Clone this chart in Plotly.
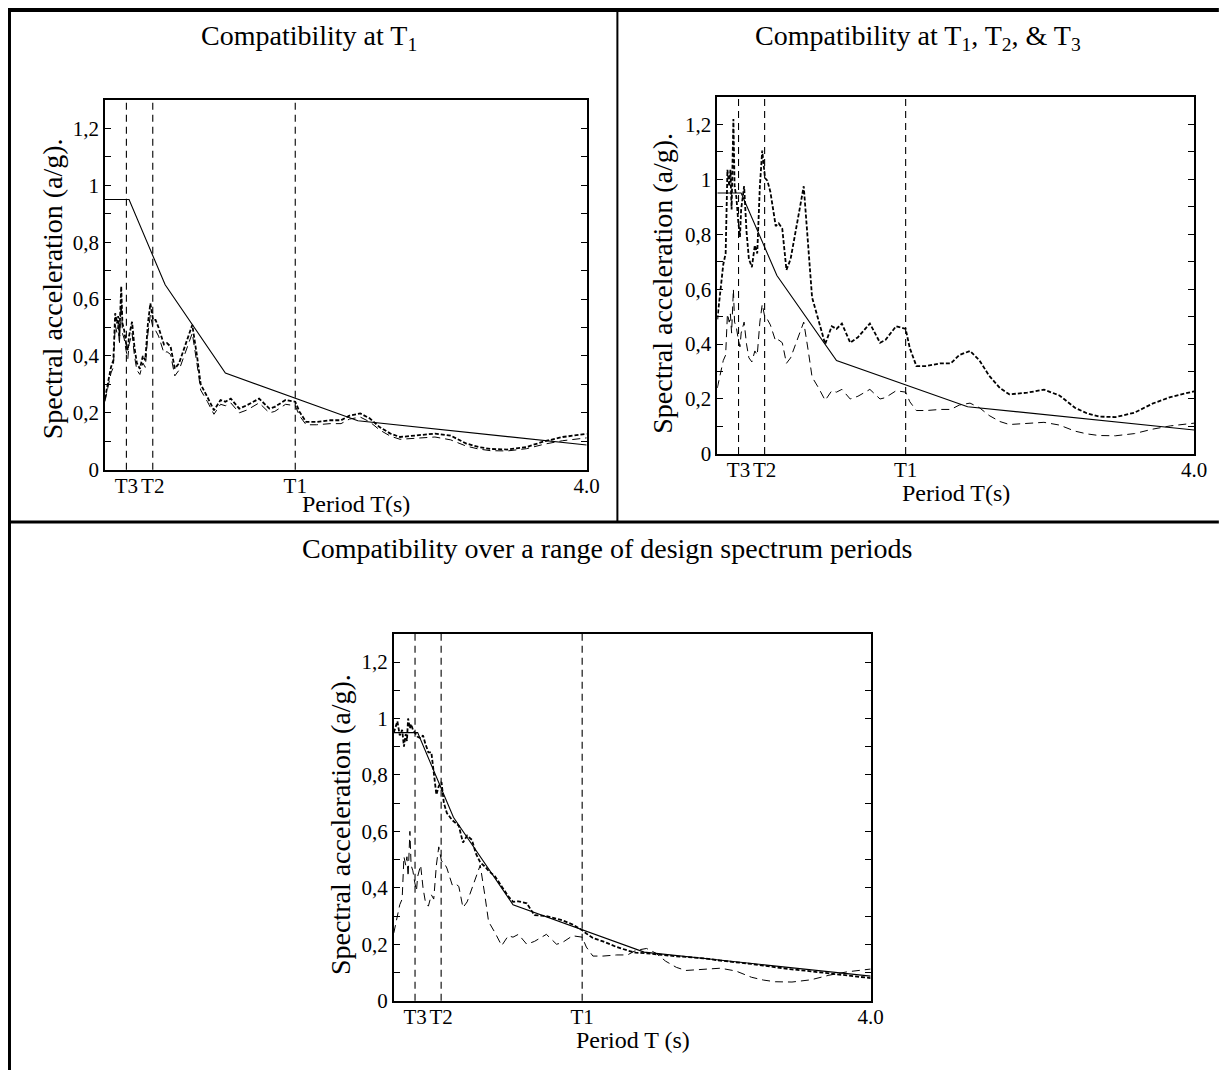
import plotly.graph_objects as go

# ---------------- data ----------------
T3, T2, T1, TMAX = 0.178, 0.397, 1.58, 4.0
X_TICK_VALS = [T3, T2, T1, TMAX]
X_TICK_TEXT = ["T3", "T2", "T1", "4.0"]
Y_TICK_VALS = [0, 0.1, 0.2, 0.3, 0.4, 0.5, 0.6, 0.7, 0.8, 0.9, 1.0, 1.1, 1.2]
Y_TICK_TEXT = ["0", "", "0,2", "", "0,4", "", "0,6", "", "0,8", "", "1", "", "1,2"]

# design spectrum
design_T = [0.0, 0.2, 0.5, 1.0, 2.1, 2.8, 3.4, 4.0]
design_Sa = [0.95, 0.95, 0.65, 0.34, 0.172, 0.140, 0.113, 0.087]

# record periods
rec_T = [0.0, 0.03, 0.05, 0.07, 0.085, 0.10, 0.11, 0.12, 0.135, 0.145, 0.16, 0.175,
         0.19, 0.20, 0.225, 0.245, 0.265, 0.29, 0.315, 0.335, 0.357, 0.377, 0.40,
         0.42, 0.445, 0.49, 0.515, 0.545, 0.58, 0.615, 0.655, 0.69, 0.725, 0.765,
         0.795, 0.85, 0.905, 0.96, 1.0, 1.045, 1.115, 1.18, 1.28, 1.365, 1.41, 1.50,
         1.58, 1.615, 1.67, 1.755, 1.87, 1.96, 2.03, 2.12, 2.2, 2.28, 2.37, 2.45,
         2.6, 2.74, 2.87, 3.0, 3.1, 3.2, 3.34, 3.5, 3.65, 3.8, 4.0]

# original (unscaled) record
orig_Sa = [0.24, 0.30, 0.34, 0.36, 0.51, 0.48, 0.51, 0.44, 0.60, 0.48, 0.46, 0.42,
           0.39, 0.44, 0.48, 0.40, 0.35, 0.335, 0.375, 0.36, 0.48, 0.545, 0.495,
           0.49, 0.47, 0.41, 0.415, 0.405, 0.33, 0.35, 0.395, 0.44, 0.48, 0.37,
           0.28, 0.24, 0.195, 0.23, 0.225, 0.235, 0.20, 0.21, 0.235, 0.20, 0.205, 0.23,
           0.225, 0.19, 0.158, 0.158, 0.162, 0.162, 0.178, 0.185, 0.168, 0.14, 0.118, 0.107,
           0.110, 0.115, 0.105, 0.083, 0.073, 0.067, 0.066, 0.074, 0.09, 0.102, 0.112]

# record scaled to match at T1
t1_Sa = [0.25, 0.315, 0.36, 0.385, 0.55, 0.515, 0.54, 0.47, 0.645, 0.515, 0.49, 0.445,
         0.42, 0.47, 0.52, 0.43, 0.375, 0.355, 0.40, 0.385, 0.515, 0.585, 0.527,
         0.527, 0.50, 0.44, 0.445, 0.433, 0.356, 0.374, 0.421, 0.468, 0.509, 0.398,
         0.30, 0.256, 0.209, 0.245, 0.239, 0.25, 0.215, 0.227, 0.25, 0.215, 0.221, 0.245,
         0.239, 0.204, 0.168, 0.168, 0.174, 0.174, 0.19, 0.198, 0.18, 0.15, 0.127, 0.115,
         0.12, 0.127, 0.12, 0.092, 0.08, 0.073, 0.071, 0.08, 0.10, 0.115, 0.126]

# record scaled to match at T1, T2 & T3
t123_Sa = [0.49, 0.61, 0.69, 0.73, 1.035, 0.975, 1.035, 0.89, 1.22, 0.975, 0.935, 0.85,
           0.79, 0.89, 0.975, 0.81, 0.71, 0.68, 0.76, 0.73, 0.975, 1.105, 1.005,
           0.995, 0.955, 0.83, 0.84, 0.82, 0.67, 0.71, 0.80, 0.89, 0.975, 0.75,
           0.57, 0.485, 0.40, 0.465, 0.455, 0.475, 0.405, 0.425, 0.475, 0.405, 0.415, 0.465,
           0.455, 0.385, 0.32, 0.32, 0.33, 0.33, 0.36, 0.375, 0.34, 0.285, 0.24, 0.217,
           0.223, 0.234, 0.213, 0.168, 0.148, 0.136, 0.134, 0.15, 0.183, 0.207, 0.228]

# record matched over a range of periods
range_Sa = [0.95, 0.99, 0.94, 0.96, 0.90, 0.945, 0.92, 1.0, 0.965, 0.98, 0.96, 0.95,
            0.94, 0.935, 0.93, 0.94, 0.91, 0.88, 0.88, 0.80, 0.73, 0.76, 0.775,
            0.70, 0.665, 0.64, 0.63, 0.62, 0.56, 0.585, 0.57, 0.52, 0.49, 0.475,
            0.46, 0.44, 0.405, 0.37, 0.35, 0.352, 0.345, 0.303, 0.30, 0.29, 0.285, 0.27,
            0.25, 0.238, 0.222, 0.21, 0.19, 0.178, 0.17, 0.168, 0.164, 0.16, 0.157, 0.155,
            0.15, 0.142, 0.137, 0.13, 0.124, 0.118, 0.111, 0.104, 0.097, 0.09, 0.08]

panels = [
    dict(title="Compatibility at T<sub>1</sub>", scaled=t1_Sa, xlabel="Period T(s)"),
    dict(title="Compatibility at T<sub>1</sub>, T<sub>2</sub>, &amp; T<sub>3</sub>", scaled=t123_Sa, xlabel="Period T(s)"),
    dict(title="Compatibility over a range of design spectrum periods", scaled=range_Sa, xlabel="Period T (s)"),
]

# ---------------- layout (page pixels) ----------------
PAGE_W, PAGE_H = 1227, 1078
OFF = 8                      # browser body margin on every side
W, H = PAGE_W - 2 * OFF, PAGE_H - 2 * OFF
FONT = "Liberation Serif"
# plot boxes: left, right, top, bottom (page px)
boxes = [(106, 593, 101, 475), (725, 1207, 98, 459), (398, 880, 641, 1012)]
title_pos = [(312, 38), (928, 38), (614, 555)]
ytitle_pos = [(53, 292), (670, 286), (344, 834)]
xtitle_pos = [(360, 510), (966, 499), (640, 1052)]
TITLE_SIZE, AXT_SIZE, XT_SIZE, TICK_SIZE = 28, 28, 24, 21
DIV_X, DIV_Y = 624, 528


def px(x):
    return (x - OFF) / W


def py(y):
    return 1 - (y - OFF) / H


fig = go.Figure()
annotations = []
shapes = []

for i, p in enumerate(panels):
    n = "" if i == 0 else str(i + 1)
    xa, ya = "x" + n, "y" + n
    l, r, t, b = boxes[i]
    fig.add_trace(go.Scatter(x=rec_T, y=orig_Sa, mode="lines", xaxis=xa, yaxis=ya,
                             line=dict(color="black", width=1, dash="8px,5px"), showlegend=False))
    fig.add_trace(go.Scatter(x=rec_T, y=p["scaled"], mode="lines", xaxis=xa, yaxis=ya,
                             line=dict(color="black", width=1.8, dash="4px,2px"), showlegend=False))
    fig.add_trace(go.Scatter(x=design_T, y=design_Sa, mode="lines", xaxis=xa, yaxis=ya,
                             line=dict(color="black", width=1.1), showlegend=False))
    axis_common = dict(showgrid=False, zeroline=False, showline=True, linecolor="black",
                       linewidth=1.5, tickfont=dict(family=FONT, size=TICK_SIZE, color="black"))
    fig.update_layout(**{
        "xaxis" + n: dict(domain=[px(l), px(r)], range=[0, TMAX], anchor=ya, mirror=True,
                          tickvals=X_TICK_VALS, ticktext=X_TICK_TEXT, ticks="", tickangle=0,
                          ticklabelstandoff=-4, **axis_common),
        "yaxis" + n: dict(domain=[py(b), py(t)], range=[0, 1.3], anchor=xa, mirror="ticks",
                          tickvals=Y_TICK_VALS, ticktext=Y_TICK_TEXT, ticks="inside",
                          ticklen=6, tickcolor="black", **axis_common),
    })
    for tv in (T3, T2, T1):
        shapes.append(dict(type="line", xref=xa, yref=ya + " domain", x0=tv, x1=tv, y0=0, y1=1,
                           line=dict(color="black", width=1.1, dash="7px,5px")))
    tx, ty = title_pos[i]
    annotations.append(dict(text=p["title"], x=px(tx), y=py(ty), xref="paper", yref="paper",
                            showarrow=False, xanchor="center", yanchor="middle",
                            font=dict(family=FONT, size=TITLE_SIZE, color="black")))
    yx, yy = ytitle_pos[i]
    annotations.append(dict(text="Spectral acceleration (a/g).", x=px(yx), y=py(yy), xref="paper",
                            yref="paper", showarrow=False, textangle=-90, xanchor="center",
                            yanchor="middle", font=dict(family=FONT, size=AXT_SIZE, color="black")))
    xx, xy = xtitle_pos[i]
    annotations.append(dict(text=p["xlabel"], x=px(xx), y=py(xy), xref="paper", yref="paper",
                            showarrow=False, xanchor="center", yanchor="middle",
                            font=dict(family=FONT, size=XT_SIZE, color="black")))

# table rules
shapes += [
    dict(type="line", xref="paper", yref="paper", x0=px(6), x1=px(PAGE_W + 5), y0=py(10), y1=py(10),
         line=dict(color="black", width=4)),
    dict(type="line", xref="paper", yref="paper", x0=px(9), x1=px(9), y0=py(8), y1=py(PAGE_H + 5),
         line=dict(color="black", width=4)),
    dict(type="line", xref="paper", yref="paper", x0=px(DIV_X), x1=px(DIV_X), y0=py(10), y1=py(DIV_Y),
         line=dict(color="black", width=2)),
    dict(type="line", xref="paper", yref="paper", x0=px(7), x1=px(PAGE_W + 5), y0=py(DIV_Y), y1=py(DIV_Y),
         line=dict(color="black", width=3)),
]

fig.update_layout(width=W, height=H, autosize=False, margin=dict(l=0, r=0, t=0, b=0),
                  paper_bgcolor="white", plot_bgcolor="white", showlegend=False,
                  annotations=annotations, shapes=shapes,
                  font=dict(family=FONT, color="black"))

fig.write_html("out.html")
